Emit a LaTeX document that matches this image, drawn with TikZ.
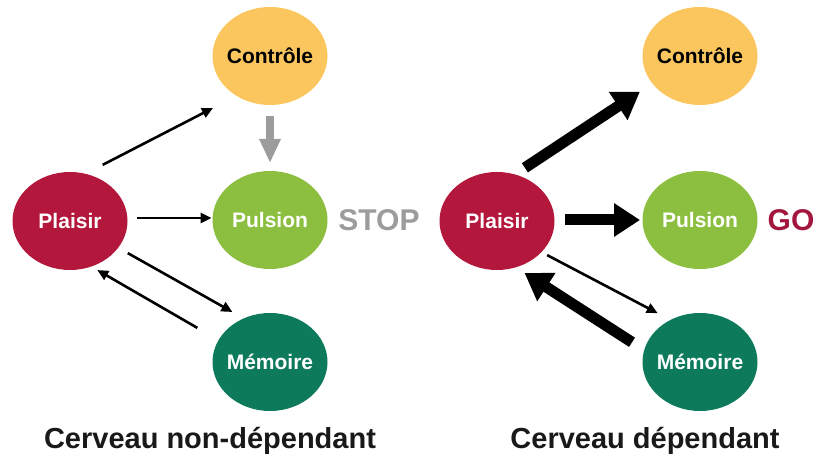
\documentclass[tikz,border=0pt]{standalone}
\usepackage{xcolor}
\usepackage{fontspec}
\setmainfont{Liberation Sans}
\usepackage{tikz}
\usetikzlibrary{arrows.meta}
\usetikzlibrary{shapes,shapes.geometric}
\definecolor{ctrlcol}{HTML}{FBC65E}
\definecolor{pulscol}{HTML}{8CBF3F}
\definecolor{plaicol}{HTML}{B3173B}
\definecolor{memcol}{HTML}{0C7A5B}
\definecolor{stopgray}{HTML}{9C9C9C}
\definecolor{gored}{HTML}{A3173F}
\tikzset{
  bubble/.style={ellipse, draw=none, fill=#1, minimum width=115pt, minimum height=98pt, inner sep=0pt, outer sep=0pt},
  bubtxt/.style={font=\fontsize{21}{25}\selectfont\bfseries, text=#1},
  thinarr/.style={-{Triangle[length=11pt,width=10pt]}, line width=2.6pt, black},
  fatarr/.style={-{Triangle[length=26pt,width=32pt]}, line width=11pt, black},
  stoparr/.style={-{Triangle[length=24pt,width=20pt]}, line width=8pt, stopgray},
  bigword/.style={font=\fontsize{30}{34}\selectfont\bfseries, text=#1},
  caption/.style={font=\fontsize{29}{34}\selectfont\bfseries, anchor=base, text=black!90},
}

\begin{document}
\begin{tikzpicture}[x=1pt,y=1pt]
        \useasboundingbox (0,0) rectangle (817,468);
        % Cerveau non-dependant
        \node[bubble=ctrlcol, label={[bubtxt=black]center:Contrôle}] (controleA) at (270,412) {};
        \node[bubble=pulscol, label={[bubtxt=white]center:Pulsion}] (pulsionA) at (270,248) {};
        \node[bubble=plaicol, label={[bubtxt=white]center:Plaisir}] (plaisirA) at (70,247) {};
        \node[bubble=memcol, label={[bubtxt=white]center:Mémoire}] (memoireA) at (270,106) {};
        \node[bigword=stopgray] (stop) at (379,248) {STOP};

        \draw[thinarr, shorten <=19.5pt, shorten >=26.5pt] (plaisirA.72) -- (controleA.230);
        \draw[stoparr, shorten <=11pt, shorten >=8pt] (controleA.south) -- (pulsionA.north);
        \draw[thinarr, shorten <=9.5pt, shorten >=1pt] ([yshift=3pt]plaisirA.east) -- ([yshift=2pt]pulsionA.west);
        \draw[thinarr, shorten <=11pt, shorten >=13pt] (plaisirA.331) -- (memoireA.121);
        \draw[thinarr, shorten <=24.5pt, shorten >=7pt] (memoireA.157) -- (plaisirA.295);

        % Cerveau dependant
        \node[bubble=ctrlcol, label={[bubtxt=black]center:Contrôle}] (controleB) at (700,412) {};
        \node[bubble=pulscol, label={[bubtxt=white]center:Pulsion}] (pulsionB) at (700,248) {};
        \node[bubble=plaicol, label={[bubtxt=white]center:Plaisir}] (plaisirB) at (497,247) {};
        \node[bubble=memcol, label={[bubtxt=white]center:Mémoire}] (memoireB) at (700,106) {};
        \node[bigword=gored] (go) at (791,248) {GO};

        \draw[fatarr, shorten <=12pt, shorten >=15pt] (plaisirB.69) -- (controleB.210);
        \draw[fatarr, shorten <=10.5pt, shorten >=2.5pt] ([yshift=1pt]plaisirB.east) -- (pulsionB.west);
        \draw[thinarr, shorten <=6.5pt, shorten >=14.5pt] (plaisirB.325) -- (memoireB.125);
        \draw[fatarr, shorten <=14.5pt, shorten >=10.5pt] (memoireB.168) -- (plaisirB.292);

        % legendes
        \node[caption] (capA) at (210,19) {Cerveau non-dépendant};
        \node[caption] (capB) at (645,19) {Cerveau dépendant};
      \end{tikzpicture}
\end{document}
